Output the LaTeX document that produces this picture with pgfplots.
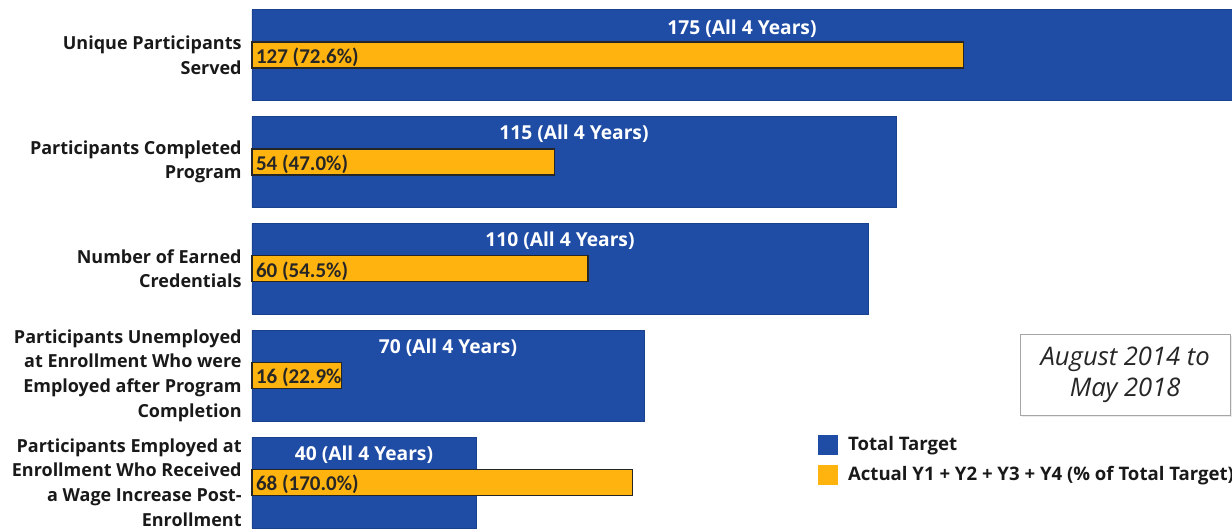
\documentclass[border=0pt]{standalone}
\usepackage{pgfplots}
\pgfplotsset{compat=1.18}
\usepackage{fontspec}
\setmainfont{Open Sans}
\newfontfamily\calib{Carlito}
\usetikzlibrary{shadows}
\definecolor{tblue}{HTML}{1F4DA6}
\definecolor{torange}{HTML}{FFB30F}
\begin{document}
\begin{tikzpicture}
\begin{axis}[name=ax, scale only axis, width=490pt, height=264.5pt,
  xmin=0, xmax=175, ymin=-0.515, ymax=4.435, y dir=reverse,
  axis line style={draw=none}, xtick=\empty, ytick={0,1,2,3,4},
  yticklabels={{Unique Participants\\Served},{Participants Completed\\Program},{Number of Earned\\Credentials},{Participants Unemployed\\at Enrollment Who were\\Employed after Program\\Completion},{Participants Employed at\\Enrollment Who Received\\a Wage Increase Post-\\Enrollment}},
  tick style={draw=none},
  yticklabel style={align=right, font=\fontsize{9.0}{12.4}\selectfont\bfseries, inner sep=0pt, xshift=-5pt, text=black!90},
  legend style={at={(0.577,0.183)}, anchor=north west, draw=none, fill=none, font=\fontsize{9.3}{11}\selectfont\bfseries, row sep=2.5pt, inner sep=0pt, text=black!90,
    nodes={inner xsep=5pt}},
  legend cell align=left,
  clip=false]
\addplot[xbar, bar width=45.5pt, bar shift=0pt, fill=tblue, draw=tblue!85!black,
  legend image code/.code={\fill[tblue] (0pt,-4.75pt) rectangle (9.5pt,4.75pt);}]
  coordinates {(175,0) (115,1) (110,2) (70,3) (40,4)};
\addlegendentry{Total Target}
\addplot[xbar, bar width=13pt, bar shift=0pt, fill=torange, draw=black!85, line width=0.6pt,
  legend image code/.code={\fill[torange] (0pt,-4.75pt) rectangle (9.5pt,4.75pt);}]
  coordinates {(127,0) (54,1) (60,2) (16,3) (68,4)};
\addlegendentry{Actual Y1 + Y2 + Y3 + Y4 (\% of Total Target)}
\addplot[draw=none, forget plot, point meta=explicit symbolic, nodes near coords,
  every node near coord/.style={anchor=center, text=white, font=\fontsize{9.6}{10}\selectfont\bfseries}]
  coordinates {(87.5,-0.25) [175 (All 4 Years)] (57.5,0.74) [115 (All 4 Years)] (55,1.74) [110 (All 4 Years)] (35,2.74) [70 (All 4 Years)] (20,3.74) [40 (All 4 Years)]};
\addplot[draw=none, forget plot, point meta=explicit symbolic, nodes near coords,
  every node near coord/.style={anchor=west, xshift=-1.5pt, text=black!85, font=\calib\fontsize{10.5}{11}\selectfont\bfseries}]
  coordinates {(0,0.02) [127 (72.6\%)] (0,1.02) [54 (47.0\%)] (0,2.02) [60 (54.5\%)] (0,3.02) [16 (22.9\%] (0,4.02) [68 (170.0\%)]};
\node[draw=gray!70, fill=white, minimum width=105pt, minimum height=40.5pt, align=center,
  font=\fontsize{12.8}{15.5}\selectfont\itshape, text=black!85,
  drop shadow={opacity=0.15, shadow xshift=0.8pt, shadow yshift=-0.8pt}]
  at (axis description cs:0.891,0.291) {August 2014 to\\May 2018};
\end{axis}
\pgfresetboundingbox
\path ([xshift=-126pt]ax.south west) rectangle (ax.north east);
\end{tikzpicture}
\end{document}
